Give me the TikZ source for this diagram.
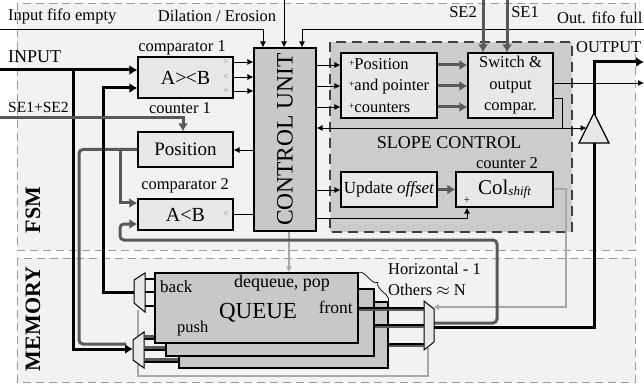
\documentclass[tikz,border=0pt]{standalone}
\usepackage{fontspec}
\usepackage{graphicx}
\setmainfont{Liberation Serif}
\usetikzlibrary{arrows.meta,decorations.pathreplacing}
\definecolor{bgl}{HTML}{F2F2F2}
\definecolor{boxf}{HTML}{E8E8E8}
\definecolor{cuf}{HTML}{C8C8C8}
\definecolor{slf}{HTML}{CCCCCC}
\definecolor{dg}{HTML}{595959}
\definecolor{lg}{HTML}{A8A8A8}
\definecolor{rg}{HTML}{9A9A9A}
\definecolor{sb}{HTML}{404040}
\definecolor{tg}{HTML}{7A7A7A}
\newcommand{\fs}[1]{\fontsize{#1}{#1}\selectfont}
\newcommand{\pl}{{\fs{10}\raisebox{3pt}{+}}}
\begin{document}
\begin{tikzpicture}[x=1pt,y=-1pt,
  region/.style={draw=rg,line width=0.8pt,dash pattern=on 8pt off 5pt,fill=bgl},
  blk/.style={draw=black,line width=1.2pt,fill=boxf,inner sep=0pt},
  wire/.style={line width=0.8pt},
  arr/.style={-{Latex[length=6pt,width=6pt]}},
  thk/.style={line width=3pt},
  thkgray/.style={line width=3pt,draw=dg},
  bigtip/.style={-{Latex[length=8pt,width=10pt]}},
  lgw/.style={line width=1.5pt,draw=lg},
  lbl/.style={inner sep=0pt,font=\fs{16.5}},
  sm/.style={inner sep=0pt,font=\fs{9},text=tg},
  mux/.style={draw=black,line width=1pt,fill=boxf},
]
\useasboundingbox (0,0) rectangle (644,387);
% regions
\path[region] (17,3) rectangle (635,250);
\path[region] (17,258) rectangle (635,382);
\path[draw=sb,line width=2.5pt,dash pattern=on 10pt off 6pt,fill=slf] (330,42) rectangle (572,232);

% region labels
\node[inner sep=0pt,font=\fs{22}\bfseries,rotate=90] (fsm) at (33,210) {FSM};
\node[inner sep=0pt,font=\fs{22}\bfseries,rotate=90] (mem) at (33,319) {MEMORY};

% boxes
\node[blk,minimum width=95pt,minimum height=41pt,font=\fs{20}] (cmp1) at (185.5,77.5) {A>\kern-1pt<B\hspace{14pt}};
\node[blk,minimum width=95pt,minimum height=35pt,font=\fs{19}] (pos) at (185.5,149.5) {Position\hspace{6pt}};
\node[blk,minimum width=95pt,minimum height=31pt,font=\fs{20}] (cmp2) at (185.5,214.5) {A<B\hspace{14pt}};
\node[blk,fill=cuf,minimum width=62pt,minimum height=183pt] (cu) at (285,139.5) {\rotatebox{90}{\fs{23.5}CONTROL UNIT}};
\node[blk,minimum width=96pt,minimum height=65pt,align=left,font=\fontsize{16.5}{21.5}\selectfont] (ppc) at (389,85.5) {\pl Position\\\pl and pointer\\\pl counters};
\node[blk,minimum width=85pt,minimum height=65pt,align=center,font=\fontsize{16.5}{21.5}\selectfont] (sw) at (510.5,85.5) {Switch \&\\output\\compar.};
\node[blk,minimum width=96pt,minimum height=35pt,font=\fs{17}] (upd) at (389,189.5) {Update \textit{offset}};
\node[blk,minimum width=97pt,minimum height=35pt] (col) at (504.5,189.5) {\fs{21}Col\raisebox{-1pt}{\fs{13}\itshape shift}};

% box labels
\node[lbl] (c1l) at (182,48) {comparator 1};
\node[lbl] (cn1) at (180,108) {counter 1};
\node[lbl] (c2l) at (185,186) {comparator 2};
\node[lbl,font=\fs{18}] (slope) at (449,143) {SLOPE CONTROL};
\node[lbl] (cn2) at (507,163) {counter 2};
\node[sm] (g1) at (226,62) {>};
\node[sm] (g2) at (226,77) {<};
\node[sm] (g3) at (226,91) {=};
\node[sm] (g4) at (226,214) {<};
\node[sm,text=black,font=\fs{11}] (g5) at (467,200) {+};

% outside labels
\node[lbl,anchor=west] (ife) at (8,16) {Input fifo empty};
\node[lbl] (dil) at (217,16) {Dilation / Erosion};
\node[lbl,anchor=west] (off) at (557,18) {Out. fifo full};
\node[lbl] (se2) at (463,12) {SE2};
\node[lbl] (se1) at (525,12) {SE1};
\node[lbl,anchor=west,font=\fs{18}] (inp) at (8,57) {INPUT};
\node[lbl,anchor=west,font=\fs{15.5}] (sesum) at (8,107) {SE1+SE2};
\node[lbl,anchor=west] (outl) at (576,47) {OUTPUT};

% free ends
\coordinate (l0) at (0,29);
\coordinate (r0) at (644,29);
\coordinate (t0) at (284,0);
\coordinate (in0) at (0,70);
\coordinate (se0) at (0,118);
\coordinate (se2t) at (483,0);
\coordinate (se1t) at (507,0);
\coordinate (o1) at (644,62);
\coordinate (o2) at (644,83);

% top control lines
\draw[wire,arr] (l0) -- (263,29) -- (cu.north -| 263,0);
\draw[wire,arr] (t0) -- (cu.north -| t0);
\draw[wire,arr] (r0) -- (302,29) -- (cu.north -| 302,0);
\draw[thkgray,bigtip] (se2t) -- (sw.north -| se2t);
\draw[thkgray,bigtip] (se1t) -- (sw.north -| se1t);

% comparator 1 to CU
\foreach \yy in {62,77,91} \draw[wire,arr] (cmp1.east |- 0,\yy) -- (cu.west |- 0,\yy);
\draw[wire,arr] (cu.west |- 0,150) -- (pos.east |- 0,150);
\draw[wire] (cu.west |- 0,214) -- (cmp2.east |- 0,214);

% CU to slope control
\foreach \yy in {65,86,107} {
  \draw[wire,arr] (cu.east |- 0,\yy) -- (ppc.west |- 0,\yy);
  \draw[thkgray,bigtip] (ppc.east |- 0,\yy) -- (sw.west |- 0,\yy);
}
\draw[wire,arr] (cu.east |- 0,190) -- (upd.west |- 0,190);
\draw[wire,arr] (cu.east |- 0,218) -- (467,218) -- (col.south -| 467,0);
\draw[thkgray,bigtip] (upd.east) -- (col.west);

% switch outputs
\coordinate (buf) at (586.5,128);
\draw[wire,arr] (sw.east |- o2) -- (o2);
\draw[wire] (sw.east |- 0,98) -- (562,98) -- (562,128);
\draw[wire,arr] (562,128) -- (cu.east |- 0,128);
\draw[wire,arr] (562,128) -- (buf);

% queue stack
\node[draw=black,line width=1.2pt,fill=cuf,minimum width=209pt,minimum height=66pt] (q3) at (283.5,335) {};
\node[draw=black,line width=1.2pt,fill=cuf,minimum width=208pt,minimum height=67pt] (q2) at (270,322.5) {};
\node[draw=black,line width=1.2pt,fill=cuf,minimum width=203pt,minimum height=70pt] (q1) at (256.5,308) {};
\node[lbl,anchor=west,font=\fs{17}] (qb) at (160,287) {back};
\node[lbl,font=\fs{18}] (qd) at (282,283) {dequeue, pop};
\node[lbl,font=\fs{23}] (qq) at (258,313) {QUEUE};
\node[lbl,anchor=east,font=\fs{17.5}] (qf) at (353,307) {front};
\node[lbl,anchor=west,font=\fs{16.5}] (qp) at (177,329) {push};
\draw[decorate,decoration={brace,amplitude=6pt},line width=0.7pt] (q1.north east) -- (q3.north east);
\node[lbl,anchor=west] (hz) at (388,269) {Horizontal - 1};
\node[lbl,anchor=west] (ot) at (388,290) {Others $\approx$ N};

% light grey select lines
\draw[lgw,-{Latex[length=6pt,width=6pt]}] (cu.south -| 289,0) -- (q1.north -| 289,0);
\draw[lgw] (428,348) -- (428,376) -- (138,376) -- (138,310);
\draw[lgw,-{Latex[length=6pt,width=6pt]}] (col.east |- 0,189) -- (566,189) -- (566,307) -- (433,307);

% feedback grey loops
\draw[thkgray,rounded corners=4pt] (pos.west) -- (79,149.5) -- (79,344) -- (126,344);
\draw[thkgray,bigtip] (120,149.5) -- (120,203) -- (cmp2.west |- 0,203);
\draw[thkgray,rounded corners=4pt,bigtip] (434,323) -- (497,323) -- (497,240) -- (120,240) -- (120,224) -- (cmp2.west |- 0,224);

% muxes
\coordinate (bmW) at (134,292);
\coordinate (pmW) at (133,349);
\coordinate (fmE) at (434,325);
\draw[mux] (134,280) -- (145,273) -- (145,312) -- (134,303) -- cycle;
\draw[mux] (133,340) -- (144,332) -- (144,368) -- (133,360) -- cycle;
\draw[mux] (424,301) -- (434,309) -- (434,342) -- (424,350) -- cycle;

% black inputs
\draw[thk,bigtip] (in0) -- (cmp1.west |- in0);
\draw[thk,bigtip] (73,70) -- (73,349) -- (pmW);
\draw[thk,bigtip] (bmW) -- (103,292) -- (103,88) -- (cmp1.west |- 0,88);
\draw[thkgray,bigtip] (se0) -- (183,118) -- (pos.north -| 183,0);

% back mux to queue
\foreach \yy in {279,292,306} \draw[line width=2pt] (145,\yy) -- (q1.west |- 0,\yy);
% push mux to queues
\draw[line width=4pt,draw=dg] (144,337) -- (q1.west |- 0,337);
\draw[line width=2pt] (144,338.5) -- (q1.west |- 0,338.5);
\draw[line width=4pt,draw=dg] (144,348) -- (q2.west |- 0,348);
\draw[line width=2pt] (144,349.5) -- (q2.west |- 0,349.5);
\draw[line width=4pt,draw=dg] (144,360) -- (q3.west |- 0,360);
\draw[line width=2pt] (144,361.5) -- (q3.west |- 0,361.5);
% queues to front mux
\draw[line width=4pt,draw=dg] (q1.east |- 0,309) -- (424,309);
\draw[line width=2pt] (q1.east |- 0,307.5) -- (424,307.5);
\draw[line width=4pt,draw=dg] (q2.east |- 0,326) -- (424,326);
\draw[line width=2pt] (q2.east |- 0,324.5) -- (424,324.5);
\draw[line width=4pt,draw=dg] (q3.east |- 0,345) -- (424,345);
\draw[line width=2pt] (q3.east |- 0,343.5) -- (424,343.5);

% output path
\draw[thk,bigtip] (434,327) -- (594,327) -- (594,62) -- (o1);
\draw[line width=1.2pt,fill=boxf] (594,113) -- (609,143) -- (579,143) -- cycle;
\end{tikzpicture}
\end{document}
